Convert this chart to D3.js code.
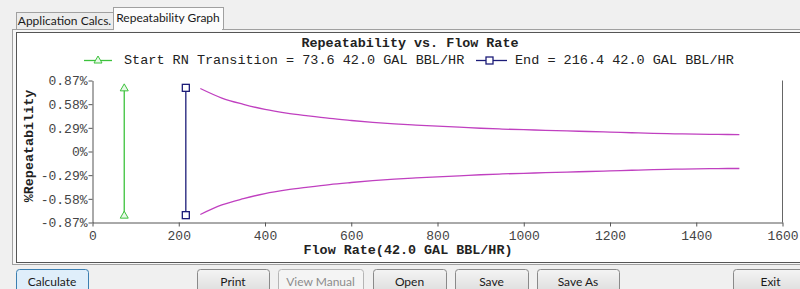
<!DOCTYPE html>
<html>
<head>
<meta charset="utf-8">
<script src="https://cdn.jsdelivr.net/npm/d3@7"></script>
<style>
  body { margin: 0; background: #f0f0f0; overflow: hidden; }
  svg { display: block; }
</style>
</head>
<body>
<div id="chart"></div>
<script>
// data
var flowRate = [250, 300, 350, 400, 450, 500, 550, 600, 650, 700, 750, 800, 850,
  900, 950, 1000, 1050, 1100, 1150, 1200, 1250, 1300, 1350, 1400, 1450, 1500];
var upperRepeat = [0.772, 0.655, 0.578, 0.515, 0.47, 0.436, 0.405, 0.38, 0.357, 0.338, 0.323, 0.31, 0.298,
  0.285, 0.275, 0.267, 0.26, 0.252, 0.245, 0.238, 0.23, 0.223, 0.217, 0.212, 0.209, 0.208];
var lowerRepeat = [-0.772, -0.655, -0.578, -0.515, -0.47, -0.436, -0.405, -0.38, -0.357, -0.338, -0.323, -0.31, -0.298,
  -0.285, -0.275, -0.267, -0.26, -0.252, -0.245, -0.238, -0.23, -0.223, -0.217, -0.212, -0.209, -0.208];
var startRN = [73.6, 73.6];
var endRN = [216.4, 216.4];
var transitionY = [0.78, -0.78];
var xTicks = [0, 200, 400, 600, 800, 1000, 1200, 1400, 1600];
var yTicks = [-0.87, -0.58, -0.29, 0, 0.29, 0.58, 0.87];
var yTickLabels = ["-0.87%", "-0.58%", "-0.29%", "0%", "0.29%", "0.58%", "0.87%"];
var titleText = "Repeatability vs. Flow Rate";
var legendStart = "Start RN Transition = 73.6 42.0 GAL BBL/HR";
var legendEnd = "End = 216.4 42.0 GAL BBL/HR";
var xLabel = "Flow Rate(42.0 GAL BBL/HR)";
var yLabel = "%Repeatability";
var tabNames = ["Application Calcs.", "Repeatability Graph"];
var buttonNames = ["Calculate", "Print", "View Manual", "Open", "Save", "Save As", "Exit"];

// layout
var width = 800, height = 289;
var mono = "'Liberation Mono', 'Courier New', monospace";
var ui = "Lato, 'Noto Sans', sans-serif";
var green = "#3cc23c", navy = "#1c1c78", magenta = "#c040c0";

var svg = d3.select("#chart").append("svg")
  .attr("width", width)
  .attr("height", height);

// window background + tabs
svg.append("rect").attr("width", width).attr("height", height).attr("fill", "#f0f0f0");

var tabBoxes = [[16, 12, 97, 18], [113, 7, 110, 23]];
tabNames.forEach(function(t, i) {
  var b = tabBoxes[i];
  svg.append("rect")
    .attr("x", b[0] + 0.5).attr("y", b[1] + 0.5)
    .attr("width", b[2]).attr("height", b[3])
    .attr("fill", i == 1 ? "#fcfcfc" : "#ececec")
    .attr("stroke", "#a0a0a0");
  svg.append("text")
    .attr("x", b[0] + b[2] / 2).attr("y", i == 1 ? 22 : 25)
    .attr("text-anchor", "middle")
    .attr("font-family", ui).attr("font-size", "12px")
    .attr("fill", "#1a1a1a")
    .text(t);
});

// panel
svg.append("rect").attr("x", 12.5).attr("y", 29.5).attr("width", 800).attr("height", 235)
  .attr("fill", "#f7f7f7").attr("stroke", "#a0a0a0");
svg.append("rect").attr("x", 16.5).attr("y", 32.5).attr("width", 800).attr("height", 230)
  .attr("fill", "#ffffff").attr("stroke", "#555");
// redraw active tab over panel top edge
svg.append("rect").attr("x", 114).attr("y", 28).attr("width", 108).attr("height", 3).attr("fill", "#fcfcfc");

// scales
var x = d3.scaleLinear().domain([0, 1600]).range([92.5, 782.5]);
var y = d3.scaleLinear().domain([-0.87, 0.87]).range([222.5, 80.5]);

// axes
var xAxis = svg.append("g")
  .attr("transform", "translate(0,222.5)")
  .call(d3.axisBottom(x).tickValues(xTicks).tickFormat(d3.format("d")).tickSize(4).tickSizeOuter(0).tickPadding(4));
var yAxis = svg.append("g")
  .attr("transform", "translate(92.5,0)")
  .call(d3.axisLeft(y).tickValues(yTicks).tickFormat(function(d, i) { return yTickLabels[i]; })
    .tickSize(4).tickSizeOuter(0).tickPadding(1));
[xAxis, yAxis].forEach(function(g) {
  g.attr("font-family", mono).attr("font-size", "13px");
  g.selectAll("path, line").attr("stroke", "#555");
  g.selectAll("text").attr("fill", "#444");
});

// right frame line
svg.append("line")
  .attr("x1", x(1600)).attr("x2", x(1600))
  .attr("y1", y(0.87)).attr("y2", y(-0.87))
  .attr("stroke", "#666");

// repeatability curves
var line = d3.line()
  .x(function(d) { return x(d[0]); })
  .y(function(d) { return y(d[1]); })
  .curve(d3.curveMonotoneX);

[upperRepeat, lowerRepeat].forEach(function(series) {
  svg.append("path")
    .datum(flowRate.map(function(f, i) { return [f, series[i]]; }))
    .attr("d", line)
    .attr("fill", "none")
    .attr("stroke", magenta)
    .attr("stroke-width", 1.3);
});

// transition markers
function triangle(cx, cy) {
  return "M" + cx + "," + (cy - 4) + "L" + (cx + 4) + "," + (cy + 3) + "L" + (cx - 4) + "," + (cy + 3) + "Z";
}

var startPts = startRN.map(function(f, i) { return [x(f), y(transitionY[i])]; });
svg.append("line")
  .attr("x1", startPts[0][0]).attr("y1", startPts[0][1])
  .attr("x2", startPts[1][0]).attr("y2", startPts[1][1])
  .attr("stroke", green).attr("stroke-width", 1.3);
startPts.forEach(function(p) {
  svg.append("path").attr("d", triangle(p[0], p[1]))
    .attr("fill", "#e8f8e8").attr("stroke", green);
});

var endPts = endRN.map(function(f, i) { return [x(f), y(transitionY[i])]; });
svg.append("line")
  .attr("x1", endPts[0][0]).attr("y1", endPts[0][1])
  .attr("x2", endPts[1][0]).attr("y2", endPts[1][1])
  .attr("stroke", navy).attr("stroke-width", 1.3);
endPts.forEach(function(p) {
  svg.append("rect")
    .attr("x", p[0] - 3.5).attr("y", p[1] - 3.5)
    .attr("width", 7).attr("height", 7)
    .attr("fill", "#fff").attr("stroke", navy).attr("stroke-width", 1.3);
});

// title and legend
svg.append("text")
  .attr("x", 410).attr("y", 47)
  .attr("text-anchor", "middle")
  .attr("font-family", mono).attr("font-size", "13.4px").attr("font-weight", "bold")
  .attr("fill", "#222")
  .text(titleText);

svg.append("line").attr("x1", 84).attr("x2", 112).attr("y1", 60.5).attr("y2", 60.5)
  .attr("stroke", green).attr("stroke-width", 1.3);
svg.append("path").attr("d", triangle(98, 60)).attr("fill", "#e8f8e8").attr("stroke", green);
svg.append("text")
  .attr("x", 124).attr("y", 64)
  .attr("font-family", mono).attr("font-size", "13.5px")
  .attr("fill", "#222")
  .text(legendStart);

svg.append("line").attr("x1", 476).attr("x2", 507).attr("y1", 60.5).attr("y2", 60.5)
  .attr("stroke", navy).attr("stroke-width", 1.3);
svg.append("rect").attr("x", 486).attr("y", 57).attr("width", 7).attr("height", 7)
  .attr("fill", "#fff").attr("stroke", navy).attr("stroke-width", 1.3);
svg.append("text")
  .attr("x", 515).attr("y", 64)
  .attr("font-family", mono).attr("font-size", "13.5px")
  .attr("fill", "#222")
  .text(legendEnd);

// axis titles
svg.append("text")
  .attr("x", 408).attr("y", 254)
  .attr("text-anchor", "middle")
  .attr("font-family", mono).attr("font-size", "13.4px").attr("font-weight", "bold")
  .attr("fill", "#222")
  .text(xLabel);

svg.append("text")
  .attr("transform", "translate(33,146) rotate(-90)")
  .attr("text-anchor", "middle")
  .attr("font-family", mono).attr("font-size", "13.4px").attr("font-weight", "bold")
  .attr("fill", "#222")
  .text(yLabel);

// buttons
var btnBoxes = [[16, 72], [197, 72], [278, 85], [373, 73], [455, 73], [537, 82], [733, 75]];
var grad = svg.append("defs").append("linearGradient")
  .attr("id", "btnGrad").attr("x1", 0).attr("x2", 0).attr("y1", 0).attr("y2", 1);
grad.append("stop").attr("offset", "0%").attr("stop-color", "#f4f4f4");
grad.append("stop").attr("offset", "100%").attr("stop-color", "#dcdcdc");

buttonNames.forEach(function(name, i) {
  var b = btnBoxes[i];
  var g = svg.append("g").attr("transform", "translate(" + b[0] + ",269)");
  g.append("rect")
    .attr("x", 0.5).attr("y", 0.5)
    .attr("width", b[1]).attr("height", 24)
    .attr("rx", 3)
    .attr("fill", i == 0 ? "#dfeefa" : (i == 2 ? "#f4f4f4" : "url(#btnGrad)"))
    .attr("stroke", i == 0 ? "#3c7fb1" : (i == 2 ? "#b5b5b5" : "#8a8a8a"));
  g.append("text")
    .attr("x", b[1] / 2).attr("y", 17)
    .attr("text-anchor", "middle")
    .attr("font-family", ui).attr("font-size", "12px")
    .attr("fill", i == 2 ? "#8c8c8c" : "#1a1a1a")
    .text(name);
});
</script>
</body>
</html>
